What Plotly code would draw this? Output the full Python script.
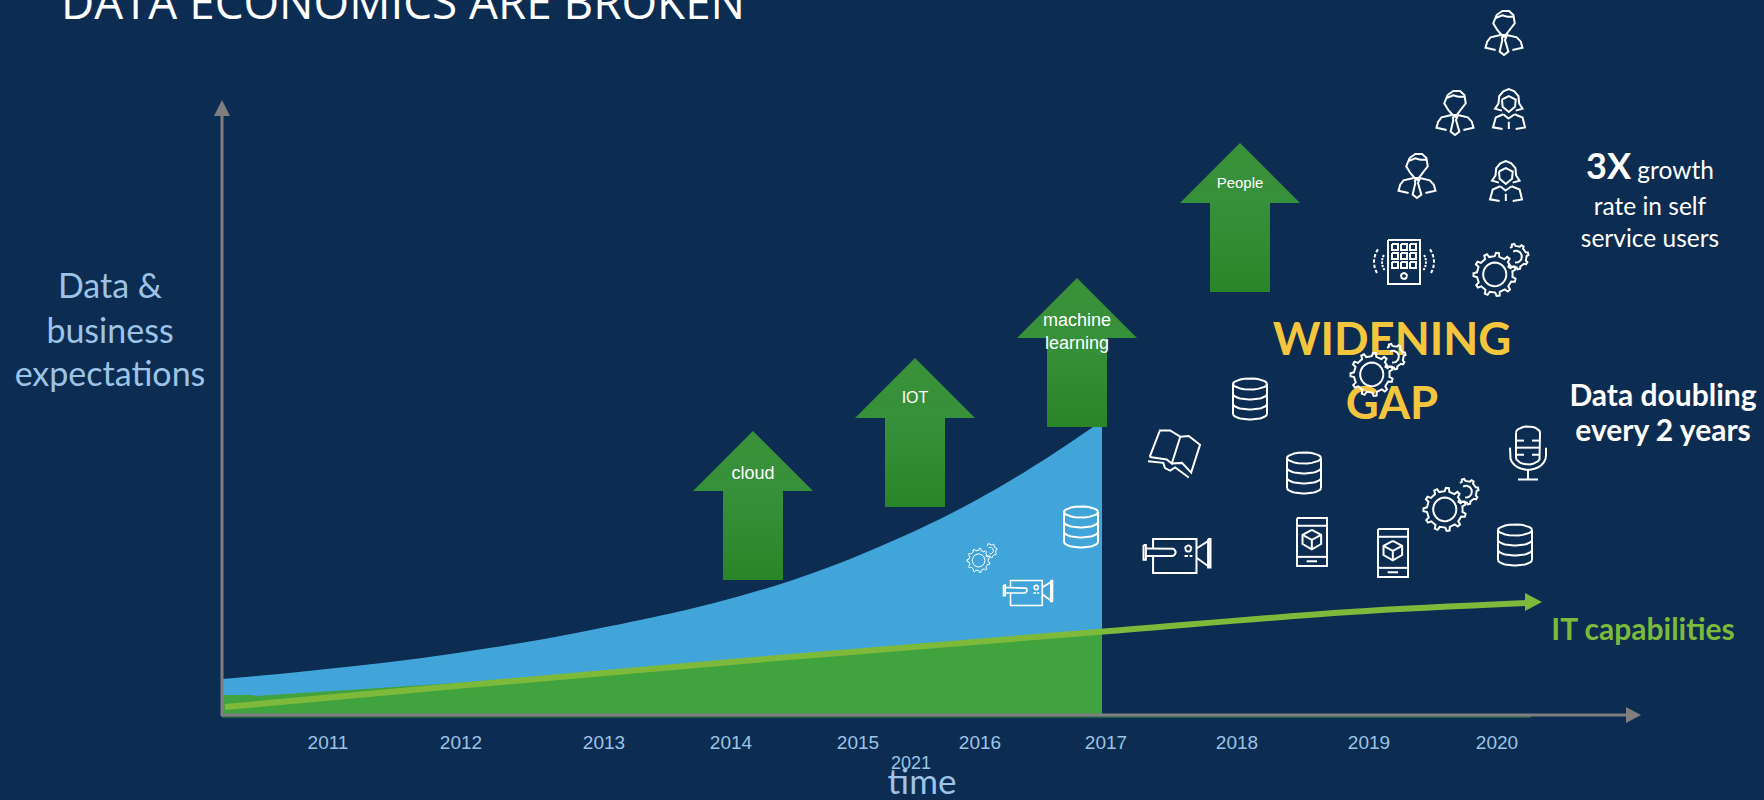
import numpy as np
import plotly.graph_objects as go

# ---------- data (x = horizontal position on the time axis, y = index above the baseline) ----------
TICK_POS = [328, 461, 604, 731, 858, 980, 1106, 1237, 1369, 1497]
TICK_YEARS = ["2011", "2012", "2013", "2014", "2015", "2016", "2017", "2018", "2019", "2020"]

EXPECT_X = [222, 289, 355, 422, 489, 555, 640, 690, 740, 790, 840, 890, 940, 980, 1013, 1053, 1093, 1102]
EXPECT_Y = [35, 41, 48, 56, 66, 77, 94, 105, 118, 133, 151, 172, 195, 216, 235, 260, 287, 293]
CAP_AREA_X = [222, 252, 256, 455, 754, 1102]
CAP_AREA_Y = [19, 19, 18, 31, 52, 80]
IT_X = [225, 467, 754, 1110, 1350, 1527]
IT_Y = [7, 29, 54, 83, 102, 111]

ARROW_LABELS = ["cloud", "IOT", "machine<br>learning", "People"]
ARROW_X = [753, 915, 1077, 1240]
ARROW_BASE = [134, 207, 287, 422]
ARROW_TIP = [283, 356, 436, 571]
ARROW_LABEL_Y = [240, 315, 381, 530]
ARROW_LABEL_SIZE = [18, 16, 18, 15]

MAN_X, MAN_Y = [1504, 1455, 1417], [681, 601, 538]
WOMAN_X, WOMAN_Y = [1509, 1506], [605, 533]
TABLET_X, TABLET_Y = [1404], [452]
GEAR_X, GEAR_Y = [1501, 1378, 1451], [444, 344, 209]
DB_X, DB_Y = [1250, 1304, 1515, 1081], [315, 241, 169, 187]
BOOK_X, BOOK_Y = [1174], [260]
VIDEO_X, VIDEO_Y = [1177], [158]
PHONE_X, PHONE_Y = [1312, 1393], [172, 161]
MIC_X, MIC_Y = [1528], [261]
SMALL_GEAR_X, SMALL_GEAR_Y = [982], [156]
SMALL_VIDEO_X, SMALL_VIDEO_Y = [1028], [121]

BG = "#0c2d51"
BLUE = "#42a5d9"
GREEN = "#41a33d"
LIME = "#7dba3c"
GREY = "#7f7f7f"
SOFT = "#9dc3e6"
GOLD = "#f4c63d"
CAL = "Lato, Carlito, sans-serif"
ARIAL = "Liberation Sans, Arial, sans-serif"


# ---------- icon glyphs: polylines in local coordinates, y pointing down ----------
def arc(cx, cy, rx, ry, a0, a1, n=24):
    t = np.radians(np.linspace(a0, a1, n))
    return list(zip(cx + rx * np.cos(t), cy + ry * np.sin(t)))


def rect(x0, y0, x1, y1):
    return [(x0, y0), (x1, y0), (x1, y1), (x0, y1), (x0, y0)]


def gear(cx, cy, r, teeth, a0=0, a1=360):
    pts = []
    step = 360 / teeth
    a = a0
    while a < a1 - 1e-6:
        for da, k in ((0, .84), (step * .25, .84), (step * .35, 1), (step * .6, 1), (step * .7, .84)):
            t = np.radians(a + da)
            pts.append((cx + r * k * np.cos(t), cy + r * k * np.sin(t)))
        a += step
    if a1 - a0 >= 360:
        pts.append(pts[0])
    return pts


MAN = [
    [(168, 45), (185, 33), (205, 33), (218, 45), (222, 70), (208, 90), (195, 105), (183, 105), (170, 90), (158, 70), (168, 45)],
    [(165, 54), (185, 46), (200, 50), (219, 50)],
    [(180, 105), (150, 112), (140, 125), (135, 143), (165, 150)],
    [(198, 105), (228, 112), (240, 125), (245, 143), (215, 150)],
    [(183, 110), (197, 110), (193, 120), (203, 155), (190, 165), (177, 155), (185, 120), (183, 110)],
]
WOMAN = [
    [(188, 334), (168, 328), (178, 312), (180, 290), (192, 275), (208, 268), (224, 275), (236, 290), (238, 312), (248, 328), (228, 334)],
    [(188, 300), (208, 290), (228, 300), (226, 322), (208, 338), (190, 322), (188, 300)],
    [(192, 345), (170, 355), (162, 385), (190, 390)],
    [(225, 345), (248, 355), (255, 385), (228, 390)],
    [(192, 345), (207, 358), (225, 345)],
    [(208, 368), (208, 390)],
]
TABLET = [rect(-16, -22, 16, 22)]
for gx in (-9, 0, 9):
    for gy in (-15, -6, 3):
        TABLET.append(rect(gx - 3, gy - 3, gx + 3, gy + 3))
TABLET.append(arc(0, 14, 3, 3, 0, 360, 16))
for side in (1, -1):
    for rad, span in ((22, 35), (14, 30)):
        for a in np.arange(-span, span, 14):
            t = np.radians([a, a + 9])
            TABLET.append([(side * (rad * np.cos(v) + 8), rad * np.sin(v)) for v in t])
GEAR = [
    gear(0, 0, 22, 11),
    arc(0, 0, 12, 12, 0, 360),
    gear(22, -18, 13, 8, -125, 115),
    arc(22, -18, 6, 6, -120, 100),
]
DB = [
    arc(0, -15, 17, 5.5, 0, 360),
    [(-17, -15), (-17, 15)] ,
    [(17, -15), (17, 15)],
    arc(0, -5, 17, 5.5, 0, 180),
    arc(0, 5, 17, 5.5, 0, 180),
    arc(0, 15, 17, 5.5, 0, 180),
]
BOOK = [
    [(30, 113), (60, 37), (90, 37), (120, 55), (95, 132), (80, 120), (30, 113)],
    [(120, 55), (145, 53), (178, 78), (152, 158), (125, 130), (95, 132)],
    [(25, 125), (70, 130), (75, 145), (90, 152), (105, 143), (145, 172)],
]
VIDEO = [
    [(40, 385), (40, 357), (167, 357), (167, 457), (40, 457), (40, 407)],
    [(20, 385), (95, 385)] + arc(95, 396, 11, 11, -90, 90, 10) + [(20, 407)],
    rect(12, 375, 19, 418),
    arc(143, 385, 9, 9, 0, 360, 16),
    [(132, 407), (142, 407)],
    [(147, 407), (155, 407)],
    [(167, 385), (203, 362), (203, 438), (167, 412)],
    rect(201, 357, 208, 441),
]
PHONE = [
    rect(475, 295, 562, 437),
    [(475, 318), (562, 318)],
    [(475, 410), (562, 410)],
    [(518, 330), (545, 345), (545, 372), (518, 388), (491, 372), (491, 345), (518, 330)],
    [(491, 345), (518, 360), (545, 345)],
    [(518, 360), (518, 388)],
    [(503, 423), (533, 423)],
]
MIC = [
    [(-12, -20)] + arc(0, -20, 12, 7, 180, 360, 12) + [(12, 8)] + arc(0, 8, 12, 8, 0, 180, 12) + [(-12, -20)],
    [(-12, -11), (-4, -11)], [(12, -11), (4, -11)],
    [(-12, -3), (12, -3)],
    [(-12, 5), (-4, 5)], [(12, 5), (4, 5)],
    [(-18, -3), (-18, 6)] + arc(0, 6, 18, 16, 180, 0, 14) + [(18, -3)],
    [(0, 22), (0, 33)],
    [(-10, 33), (10, 33)],
]


def place(glyph, xs, ys, w, h):
    """Scale a glyph to a w x h box around each (x, y) and return one broken polyline."""
    allp = np.array([p for line in glyph for p in line], dtype=float)
    x0, y0 = allp.min(axis=0)
    x1, y1 = allp.max(axis=0)
    ox, oy = [], []
    for cx, cy in zip(xs, ys):
        for line in glyph:
            for px, py in line:
                ox.append(cx + ((px - x0) / (x1 - x0) - .5) * w)
                oy.append(cy - ((py - y0) / (y1 - y0) - .5) * h)
            ox.append(None)
            oy.append(None)
    return ox, oy


fig = go.Figure()

# areas
fig.add_trace(go.Scatter(x=EXPECT_X, y=EXPECT_Y, name="Data & business expectations", mode="lines",
                         line=dict(width=0, shape="spline", smoothing=1), fill="tozeroy", fillcolor=BLUE))
fig.add_trace(go.Scatter(x=CAP_AREA_X, y=CAP_AREA_Y, name="capability area", mode="lines",
                         line=dict(width=0), fill="tozeroy", fillcolor=GREEN))

# axes drawn as arrows
fig.add_trace(go.Scatter(x=[222, 1531], y=[-3, -3], mode="lines", line=dict(color="#3f8f45", width=1)))
fig.add_trace(go.Scatter(x=[221, 1628], y=[-1, -1], mode="lines", line=dict(color=GREY, width=3)))
fig.add_trace(go.Scatter(x=[222, 222], y=[-2, 600], mode="lines", line=dict(color=GREY, width=3)))
fig.add_trace(go.Scatter(x=[1626, 1641, 1626, 1626], y=[7, -1, -9, 7], mode="lines", line=dict(width=0),
                         fill="toself", fillcolor=GREY))
fig.add_trace(go.Scatter(x=[214, 222, 230, 214], y=[598, 614, 598, 598], mode="lines", line=dict(width=0),
                         fill="toself", fillcolor=GREY))

# IT capabilities line
fig.add_trace(go.Scatter(x=IT_X, y=IT_Y, name="IT capabilities", mode="lines",
                         line=dict(color=LIME, width=6, shape="spline", smoothing=1)))
fig.add_trace(go.Scatter(x=[1525, 1542, 1525, 1525], y=[121, 112, 103, 121], mode="lines", line=dict(width=0),
                         fill="toself", fillcolor=LIME))

# block arrows
for cx, b, t in zip(ARROW_X, ARROW_BASE, ARROW_TIP):
    hb = t - 60
    fig.add_trace(go.Scatter(
        x=[cx - 30, cx + 30, cx + 30, cx + 60, cx, cx - 60, cx - 30, cx - 30],
        y=[b, b, hb, hb, t, hb, hb, b], mode="lines", line=dict(width=0), fill="toself",
        fillgradient=dict(type="vertical", colorscale=[[0, "#2a8527"], [.55, "#36903a"], [1, "#3a9139"]])))

def text_trace(xs, ys, labels, size, color, family=CAL):
    fig.add_trace(go.Scatter(x=xs, y=ys, mode="text", text=labels, textposition="middle center",
                             textfont=dict(size=size, color=color, family=family)))

# text under the icons
text_trace([1392], [370], ["<b>WIDENING</b>"], 45.5, GOLD)
text_trace([1392], [306], ["<b>GAP</b>"], 45.5, GOLD)

# icons
def icon(glyph, xs, ys, w, h, lw=2):
    ox, oy = place(glyph, xs, ys, w, h)
    fig.add_trace(go.Scatter(x=ox, y=oy, mode="lines", line=dict(color="white", width=lw)))

icon(MAN, MAN_X, MAN_Y, 37, 44)
icon(WOMAN, WOMAN_X, WOMAN_Y, 32, 40)
icon(TABLET, TABLET_X, TABLET_Y, 60, 44)
icon(GEAR, GEAR_X, GEAR_Y, 55, 52)
icon(DB, DB_X, DB_Y, 34, 41)
icon(BOOK, BOOK_X, BOOK_Y, 52, 47)
icon(VIDEO, VIDEO_X, VIDEO_Y, 67, 34)
icon(PHONE, PHONE_X, PHONE_Y, 30, 48)
icon(MIC, MIC_X, MIC_Y, 36, 53)
icon(GEAR, SMALL_GEAR_X, SMALL_GEAR_Y, 30, 29, 1)
icon(VIDEO, SMALL_VIDEO_X, SMALL_VIDEO_Y, 49, 25, 1.6)

# text
for label, cx, ly, sz in zip(ARROW_LABELS, ARROW_X, ARROW_LABEL_Y, ARROW_LABEL_SIZE):
    text_trace([cx], [ly], [label], sz, "white", ARIAL)

text_trace([403], [706], ["DATA ECONOMICS ARE BROKEN"], 45.8, "white", "Open Sans, sans-serif")
text_trace([110, 110, 110], [425, 380, 337], ["Data &", "business", "expectations"], 34, SOFT)
text_trace([922], [-71], ["time"], 35, SOFT)
text_trace([911], [-50], ["2021"], 18, SOFT, ARIAL)
text_trace([1650], [541], ['<span style="font-size:36px"><b>3X</b></span> growth'], 24.5, "white")
text_trace([1650, 1650], [505, 473], ["rate in self", "service users"], 24.5, "white")
text_trace([1663, 1663], [316, 281], ["<b>Data doubling</b>", "<b>every 2 years</b>"], 30, "white")
text_trace([1643], [82], ["<b>IT capabilities</b>"], 30, LIME)

fig.update_layout(
    width=1764, height=800, margin=dict(l=0, r=0, t=0, b=0),
    paper_bgcolor=BG, plot_bgcolor=BG, showlegend=False,
    xaxis=dict(range=[0, 1764], anchor="free", position=86 / 800, showgrid=False, zeroline=False, showline=False,
               tickmode="array", tickvals=TICK_POS, ticktext=TICK_YEARS, ticks="", ticklabelstandoff=15,
               tickfont=dict(size=19, color=SOFT, family=ARIAL)),
    yaxis=dict(range=[-86, 714], visible=False),
)
fig.write_html("out.html", config={"displayModeBar": False},
               post_script="document.body.style.margin='0';document.body.style.background='%s';" % BG)
